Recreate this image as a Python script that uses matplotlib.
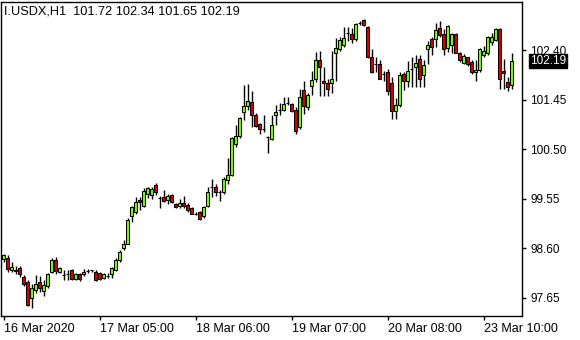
import matplotlib
matplotlib.use("Agg")
import matplotlib.pyplot as plt
import matplotlib.transforms as mtransforms
import numpy as np

symbol_title = "I.USDX,H1  101.72 102.34 101.65 102.19"
last_price = 102.19

opens = [98.40, 98.41, 98.18, 98.19, 98.22, 98.05, 97.95, 97.65, 97.80, 97.95,
         97.78, 97.88, 98.15, 98.38, 98.15, 98.08, 98.10, 98.18, 98.01, 98.11,
         98.10, 98.17, 98.18, 98.15, 98.13, 98.04, 98.06, 98.11, 98.19, 98.38,
         98.61, 98.69, 99.21, 99.30, 99.53, 99.41, 99.65, 99.62, 99.81, 99.57,
         99.58, 99.53, 99.62, 99.44, 99.41, 99.47, 99.43, 99.37, 99.26, 99.29,
         99.21, 99.42, 99.78, 99.77, 99.68, 99.67, 99.91, 100.00, 100.59, 100.75,
         101.21, 101.33, 101.40, 101.16, 100.98, 100.89, 100.73, 100.70, 101.15, 101.26,
         101.26, 101.39, 101.37, 101.26, 100.92, 101.63, 101.31, 101.71, 101.84, 102.21,
         101.81, 101.77, 101.76, 102.34, 102.41, 102.49, 102.73, 102.71, 102.61, 102.92,
         102.97, 102.85, 102.26, 102.13, 102.13, 101.94, 101.98, 101.76, 101.23, 101.35,
         101.94, 101.81, 102.04, 102.07, 102.22, 101.92, 102.42, 102.61, 102.61, 102.82,
         102.71, 102.44, 102.50, 102.71, 102.34, 102.16, 102.26, 102.17, 101.97, 102.02,
         102.31, 102.35, 102.55, 102.59, 102.80, 101.99, 101.79, 101.72]
highs = [98.49, 98.47, 98.34, 98.26, 98.26, 98.09, 97.99, 97.92, 98.09, 98.07,
         97.99, 98.13, 98.42, 98.44, 98.24, 98.18, 98.18, 98.20, 98.13, 98.13,
         98.20, 98.20, 98.19, 98.18, 98.14, 98.13, 98.13, 98.24, 98.41, 98.57,
         98.75, 99.18, 99.42, 99.58, 99.58, 99.75, 99.78, 99.78, 99.85, 99.61,
         99.72, 99.65, 99.64, 99.46, 99.55, 99.60, 99.47, 99.39, 99.30, 99.32,
         99.42, 99.78, 99.92, 99.83, 99.72, 99.97, 100.34, 100.73, 100.97, 101.11,
         101.72, 101.75, 101.62, 101.19, 101.00, 101.15, 100.75, 101.15, 101.34, 101.38,
         101.49, 101.49, 101.39, 101.31, 101.66, 101.81, 101.57, 101.99, 102.36, 102.38,
         102.08, 101.85, 102.38, 102.63, 102.65, 102.85, 102.85, 102.82, 102.91, 102.96,
         102.99, 102.86, 102.41, 102.26, 102.21, 101.99, 102.03, 101.89, 101.48, 101.98,
         101.98, 102.18, 102.27, 102.30, 102.30, 102.21, 102.58, 102.65, 102.91, 102.95,
         102.80, 102.88, 102.73, 102.72, 102.36, 102.32, 102.27, 102.21, 102.21, 102.44,
         102.48, 102.67, 102.73, 102.83, 102.82, 102.23, 101.89, 102.34]
lows = [98.34, 98.15, 98.15, 98.11, 98.05, 97.88, 97.49, 97.46, 97.74, 97.76,
        97.69, 97.84, 98.13, 98.11, 98.13, 97.99, 97.99, 97.99, 97.99, 97.97,
        98.07, 98.13, 98.15, 97.97, 97.99, 98.01, 98.03, 98.04, 98.17, 98.34,
        98.56, 98.68, 99.10, 99.26, 99.34, 99.39, 99.56, 99.55, 99.62, 99.37,
        99.49, 99.44, 99.46, 99.37, 99.38, 99.38, 99.30, 99.25, 99.24, 99.15,
        99.19, 99.40, 99.59, 99.60, 99.50, 99.65, 99.83, 99.99, 100.55, 100.71,
        101.05, 101.25, 100.93, 100.93, 100.80, 100.83, 100.43, 100.68, 100.96, 101.16,
        101.23, 101.34, 101.21, 100.79, 100.88, 101.17, 101.26, 101.53, 101.79, 101.51,
        101.51, 101.52, 101.57, 101.81, 102.38, 102.46, 102.58, 102.53, 102.58, 102.87,
        102.86, 102.25, 101.95, 101.98, 101.84, 101.81, 101.53, 101.07, 101.08, 101.31,
        101.63, 101.70, 101.69, 101.70, 101.70, 101.70, 102.13, 102.31, 102.46, 102.65,
        102.31, 102.36, 102.34, 102.34, 102.17, 102.13, 102.09, 101.94, 101.81, 101.98,
        102.26, 102.31, 102.49, 102.58, 101.66, 101.66, 101.62, 101.65]
closes = [98.47, 98.20, 98.24, 98.16, 98.11, 97.92, 97.51, 97.84, 97.92, 97.84,
          97.90, 98.11, 98.38, 98.17, 98.22, 98.08, 98.10, 98.01, 98.11, 98.01,
          98.15, 98.17, 98.18, 98.00, 98.01, 98.11, 98.06, 98.22, 98.37, 98.52,
          98.69, 99.14, 99.39, 99.49, 99.48, 99.69, 99.75, 99.74, 99.67, 99.57,
          99.51, 99.60, 99.48, 99.39, 99.46, 99.42, 99.33, 99.26, 99.26, 99.16,
          99.40, 99.68, 99.78, 99.67, 99.68, 99.92, 100.00, 100.71, 100.75, 101.10,
          101.33, 101.42, 101.16, 100.94, 100.89, 100.89, 100.73, 100.96, 101.21, 101.26,
          101.37, 101.39, 101.24, 100.85, 101.49, 101.32, 101.53, 101.83, 102.21, 102.07,
          101.76, 101.66, 101.85, 102.44, 102.59, 102.63, 102.73, 102.61, 102.90, 102.92,
          102.87, 102.26, 101.98, 102.13, 101.85, 101.94, 101.62, 101.23, 101.34, 101.93,
          101.80, 101.99, 102.04, 102.15, 101.85, 102.11, 102.50, 102.46, 102.78, 102.69,
          102.42, 102.86, 102.71, 102.35, 102.21, 102.29, 102.13, 101.97, 102.02, 102.41,
          102.39, 102.64, 102.65, 102.81, 101.84, 101.95, 101.70, 102.19]

tick_positions = [0, 24, 48, 72, 96, 120]
tick_labels = ["16 Mar 2020", "17 Mar 05:00", "18 Mar 06:00",
               "19 Mar 07:00", "20 Mar 08:00", "23 Mar 10:00"]
price_ticks = [102.40, 101.45, 100.50, 99.55, 98.60, 97.65]

W, H = 580, 340
fig = plt.figure(figsize=(W / 100, H / 100), dpi=100)
fig.patch.set_facecolor("white")
ax = fig.add_axes([1 / W, (H - 316) / H, 521 / W, 314 / H])
ax.set_facecolor("white")

o = np.array(opens); h = np.array(highs); l = np.array(lows); c = np.array(closes)
x = np.arange(len(o))
up_col = "#7CFC00"
dn_col = "#D40000"

ax.vlines(x, l, h, color="black", linewidth=1.0, zorder=2)
bottoms = np.minimum(o, c)
heights = np.abs(c - o)
colors = [up_col if cc > oo else (dn_col if cc < oo else "black") for oo, cc in zip(o, c)]
ax.bar(x, heights, bottom=bottoms, width=0.68, color=colors,
       edgecolor="black", linewidth=0.75, zorder=3)

ax.set_xlim(-0.675, 129.6)
ax.set_ylim(97.303, 103.32)

for s in ax.spines.values():
    s.set_color("black")
    s.set_linewidth(1.0)

ax.yaxis.tick_right()
ax.set_yticks(price_ticks)
ax.set_yticklabels([f"{p:.2f}" for p in price_ticks])
ax.set_xticks(tick_positions)
ax.set_xticklabels(tick_labels, ha="left")
ax.tick_params(axis="both", direction="out", length=3, width=1, color="black",
               labelcolor="black")
ax.tick_params(axis="y", pad=3, labelsize=8.5)
ax.tick_params(axis="x", pad=2, labelsize=9)
for lab in ax.get_xticklabels() + ax.get_yticklabels():
    lab.set_family("Liberation Sans")

trans = mtransforms.blended_transform_factory(ax.transAxes, ax.transData)
ax.text(1.0 + 8 / 521, last_price, f"{last_price:.2f}", transform=trans,
        color="white", fontsize=8.5, family="Liberation Sans", va="center", ha="left",
        bbox=dict(boxstyle="square,pad=0.08", facecolor="black", edgecolor="black"),
        clip_on=False, zorder=5)

fig.text(4 / W, 1 - 12 / H, symbol_title, fontsize=9.2, family="Liberation Sans",
         color="black", va="center", ha="left")

fig.savefig("out.png", dpi=100, facecolor="white")
